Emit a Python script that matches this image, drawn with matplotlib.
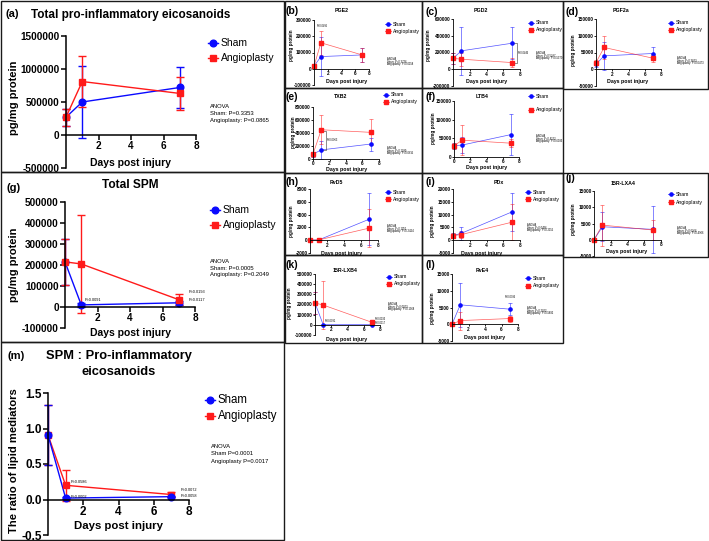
import matplotlib.pyplot as plt
from matplotlib.lines import Line2D
from matplotlib.patches import Rectangle

plt.rcParams['font.family'] = ['Liberation Sans', 'DejaVu Sans']

W, H = 709, 541
BLUE = '#0a0aff'
RED = '#ff1a1a'

days = [0, 1, 7]

# (a) total pro-inflammatory eicosanoids
a_sham = [270000, 500000, 720000]
a_sham_err = [130000, 550000, 315000]
a_ang = [270000, 810000, 630000]
a_ang_err = [130000, 390000, 250000]
a_yticks = [-500000, 0, 500000, 1000000, 1500000]

# (b) PGE2
b_sham = [15000, 75000, 85000]
b_sham_err = [8000, 120000, 42000]
b_ang = [15000, 160000, 85000]
b_ang_err = [8000, 75000, 42000]
b_yticks = [-100000, 0, 100000, 200000, 300000]

# (c) PGD2
c_sham = [130000, 220000, 310000]
c_sham_err = [70000, 290000, 190000]
c_ang = [130000, 120000, 80000]
c_ang_err = [70000, 80000, 50000]
c_yticks = [-200000, 0, 200000, 400000, 600000]

# (d) PGF2a
d_sham = [15000, 40000, 47000]
d_sham_err = [8000, 42000, 18000]
d_ang = [20000, 65000, 33000]
d_ang_err = [8000, 35000, 10000]
d_yticks = [-50000, 0, 50000, 100000, 150000]

# (e) TXB2
e_sham = [75000, 140000, 230000]
e_sham_err = [40000, 140000, 100000]
e_ang = [75000, 450000, 410000]
e_ang_err = [40000, 220000, 200000]
e_yticks = [0, 200000, 400000, 600000, 800000]

# (f) LTB4
f_sham = [30000, 32000, 60000]
f_sham_err = [8000, 22000, 55000]
f_ang = [30000, 45000, 37000]
f_ang_err = [8000, 40000, 10000]
f_yticks = [0, 50000, 100000, 150000]

# (g) total SPM
g_sham = [215000, 10000, 20000]
g_sham_err = [110000, 8000, 10000]
g_ang = [215000, 205000, 35000]
g_ang_err = [110000, 235000, 25000]
g_yticks = [-100000, 0, 100000, 200000, 300000, 400000, 500000]

# (h) RvD5
h_sham = [30, 30, 3300]
h_sham_err = [20, 20, 4000]
h_ang = [30, 40, 1900]
h_ang_err = [20, 20, 2900]
h_yticks = [-2000, 0, 2000, 4000, 6000, 8000]

# (i) PDx
i_sham = [1800, 2700, 11000]
i_sham_err = [1000, 2600, 7600]
i_ang = [1800, 2200, 7000]
i_ang_err = [1000, 1200, 7000]
i_yticks = [-5000, 0, 5000, 10000, 15000, 20000]

# (j) 15R-LXA4
j_sham = [0, 4000, 3200]
j_sham_err = [0, 4400, 7300]
j_ang = [0, 4500, 3000]
j_ang_err = [0, 6300, 3000]
j_yticks = [-5000, 0, 5000, 10000, 15000]

# (k) 15R-LXB4
k_sham = [215000, 3000, 3000]
k_sham_err = [105000, 2000, 2000]
k_ang = [215000, 195000, 25000]
k_ang_err = [105000, 235000, 20000]
k_yticks = [-100000, 0, 100000, 200000, 300000, 400000, 500000]

# (l) RvE4
l_sham = [0, 5800, 4500]
l_sham_err = [0, 6500, 1800]
l_ang = [0, 1100, 1700]
l_ang_err = [0, 2700, 900]
l_yticks = [-5000, 0, 5000, 10000, 15000]

# (m) SPM : pro-inflammatory ratio
m_sham = [0.91, 0.02, 0.04]
m_sham_err = [0.42, 0.01, 0.01]
m_ang = [0.91, 0.20, 0.07]
m_ang_err = [0.42, 0.22, 0.04]
m_yticks = [-0.5, 0.0, 0.5, 1.0, 1.5]

BIG = dict(fs=7.2, lw=1.0, ms=4.8, cap=3.0, tl=3.5, spine=1.1, leg=7.5, xl=7.5, pad=1, alpha=1.0)
SMALL = dict(fs=3.4, lw=0.5, ms=2.3, cap=1.2, tl=1.2, spine=0.6, leg=3.7, xl=3.8, pad=0.5, alpha=0.7)

fig = plt.figure(figsize=(W / 100, H / 100), dpi=100)


def ftext(x, y, s, **kw):
    kw.setdefault('va', 'center')
    return fig.text(x / W, 1 - y / H, s, **kw)


def box(x0, y0, x1, y1):
    fig.add_artist(Rectangle((x0 / W, 1 - y1 / H), (x1 - x0) / W, (y1 - y0) / H,
                             transform=fig.transFigure, fill=False, lw=1.0, ec='#1a1a1a'))


def legend(x, y1, y2, st, fs=None):
    fs = fs or st['leg']
    d = st['ms'] * 1.1
    for yy, col, mk, lab in [(y1, BLUE, 'o', 'Sham'), (y2, RED, 's', 'Angioplasty')]:
        fig.add_artist(Line2D([(x - d) / W, x / W, (x + d) / W], [1 - yy / H] * 3,
                              color=col, lw=st['lw'], marker=mk, ms=st['ms'],
                              markevery=[1], transform=fig.transFigure))
        ftext(x + d + 2.5, yy, lab, fontsize=fs)


def series(ax, y, e, color, marker, st):
    c = ax.errorbar(days, y, yerr=e, color=color, marker=marker, ms=st['ms'],
                    mec=color, mfc=color, lw=st['lw'], elinewidth=st['lw'],
                    capsize=st['cap'], capthick=st['lw'])
    for art in list(c.lines[1]) + list(c.lines[2]):
        art.set_clip_on(False)
        art.set_alpha(st['alpha'])
    c.lines[0].set_clip_on(False)
    # keep markers solid, connecting line a little lighter on the small panels
    ax.plot(days, y, color=color, lw=st['lw'], alpha=st['alpha'], clip_on=False)
    c.lines[0].set_linestyle('none')


def panel(x0, x1, ytop, ybot, yticks, sham, sham_err, ang, ang_err, st, dec=False, red_first=False):
    ax = fig.add_axes([x0 / W, 1 - ybot / H, (x1 - x0) / W, (ybot - ytop) / H])
    ax.patch.set_alpha(0)
    ax.set_xlim(0, 8)
    ax.set_ylim(yticks[0], yticks[-1])
    ax.set_yticks(yticks)
    if dec:
        ax.set_yticklabels(['%.1f' % v for v in yticks])
    else:
        ax.set_yticklabels([str(v) for v in yticks])
    if yticks[0] == 0:
        ax.set_xticks([0, 2, 4, 6, 8])
    else:
        ax.set_xticks([2, 4, 6, 8])
    ax.spines['bottom'].set_position(('data', 0))
    for sp in ['top', 'right']:
        ax.spines[sp].set_visible(False)
    for sp in ['left', 'bottom']:
        ax.spines[sp].set_linewidth(st['spine'])
    ax.tick_params(direction='out', length=st['tl'], width=st['spine'], pad=st['pad'],
                   labelsize=st['fs'])
    for lab in ax.get_xticklabels() + ax.get_yticklabels():
        lab.set_fontweight('bold')
    order = [(ang, ang_err, RED, 's'), (sham, sham_err, BLUE, 'o')]
    if not red_first:
        order = order[::-1]
    for y, e, col, mk in order:
        series(ax, y, e, col, mk, st)
    return ax


def anova(x, y, lines, fs, gap):
    for n, s in enumerate(lines):
        ftext(x, y + n * gap, s, fontsize=fs, va='top')


# ---------- boxes ----------
box(1, 1, 284, 172)
box(1, 172, 284, 342)
box(1, 342, 284, 540)
box(285, 1, 422, 88)
box(422, 1, 563, 88)
box(563, 1, 708, 89)
box(285, 88, 422, 173)
box(422, 88, 563, 173)
box(285, 173, 422, 255)
box(422, 173, 563, 255)
box(563, 173, 708, 257)
box(285, 255, 422, 343)
box(422, 255, 563, 343)

# ---------- (a) ----------
ax = panel(66, 196, 36, 168, a_yticks, a_sham, a_sham_err, a_ang, a_ang_err, BIG)
ftext(5, 14, '(a)', fontsize=8, fontweight='bold')
ftext(131, 15, 'Total pro-inflammatory eicosanoids', fontsize=8.5, fontweight='bold', ha='center')
ftext(131, 163, 'Days post injury', fontsize=BIG['xl'], fontweight='bold', ha='center')
ftext(14, 98, 'pg/mg protein', fontsize=8, fontweight='bold', ha='center', rotation=90)
legend(213, 43, 58, BIG)
anova(210, 104, ['ANOVA', 'Sham: P=0.3353', 'Angioplasty: P=0.0865'], 4.2, 7)

# ---------- (g) ----------
ax = panel(65, 195, 202, 328, g_yticks, g_sham, g_sham_err, g_ang, g_ang_err, BIG)
ftext(6, 188, '(g)', fontsize=8, fontweight='bold')
ftext(130, 185, 'Total SPM', fontsize=8.6, fontweight='bold', ha='center')
ftext(130, 333, 'Days post injury', fontsize=BIG['xl'], fontweight='bold', ha='center')
ftext(14, 265, 'pg/mg protein', fontsize=8, fontweight='bold', ha='center', rotation=90)
legend(215, 210, 225, BIG)
anova(210, 259, ['ANOVA', 'Sham: P=0.0005', 'Angioplasty: P=0.2049'], 4.2, 6.5)
ax.text(1.2, 30000, 'P=0.0091', fontsize=2.8)
ax.text(7.6, 68000, 'P=0.0193', fontsize=2.8)
ax.text(7.6, 28000, 'P=0.0117', fontsize=2.8)

# ---------- (m) ----------
ax = panel(48, 189, 393, 535, m_yticks, m_sham, m_sham_err, m_ang, m_ang_err, BIG,
           dec=True, red_first=True)
ax.tick_params(labelsize=8.5)
ftext(7, 356, '(m)', fontsize=8, fontweight='bold')
ftext(119, 356, 'SPM : Pro-inflammatory', fontsize=9.3, fontweight='bold', ha='center')
ftext(119, 372, 'eicosanoids', fontsize=9.3, fontweight='bold', ha='center')
ftext(119, 526, 'Days post injury', fontsize=8.2, fontweight='bold', ha='center')
ftext(14, 461, 'The ratio of lipid mediators', fontsize=8.1, fontweight='bold', ha='center', rotation=90)
legend(210, 400, 416, BIG, fs=8.3)
anova(211, 444, ['ANOVA', 'Sham P=0.0001', 'Angioplasty P=0.0017'], 4.2, 7.3)
ax.text(1.3, 0.235, 'P=0.0586', fontsize=2.8)
ax.text(1.3, 0.025, 'P=0.0002', fontsize=2.8)
ax.text(7.5, 0.12, 'P=0.0072', fontsize=2.8)
ax.text(7.5, 0.035, 'P=0.0058', fontsize=2.8)

# ---------- small panels ----------
small = [
    # label, lx, ly, title, tx, ty, axes px, data, legend, anova, ylab, xlab
    ('(b)', 286, 11, 'PGE2', 342, 11, (314, 369, 20, 85), (b_yticks, b_sham, b_sham_err, b_ang, b_ang_err),
     (388, 24, 31), (387, 57, 'Sham: P=0.3726', 'Angioplasty: P=0.0158'), (291, 45), (347, 82)),
    ('(c)', 426, 12, 'PGD2', 481, 10, (453, 520, 19, 86), (c_yticks, c_sham, c_sham_err, c_ang, c_ang_err),
     (531, 23, 30), (536, 51, 'Sham: P=0.5287', 'Angioplasty: P=0.5370'), (429, 45), (487, 81)),
    ('(d)', 566, 12, 'PGF2a', 621, 11, (596, 661, 19, 86), (d_yticks, d_sham, d_sham_err, d_ang, d_ang_err),
     (671, 23, 30), (677, 56, 'Sham: P=0.3823', 'Angioplasty: P=0.0473'), (574, 50), (628, 82)),
    ('(e)', 286, 97, 'TXB2', 341, 97, (313, 379, 107, 159), (e_yticks, e_sham, e_sham_err, e_ang, e_ang_err),
     (386, 95, 102), (387, 146, 'Sham: P=0.1099', 'Angioplasty: P=0.0615'), (293, 132), (347, 169)),
    ('(f)', 426, 97, 'LTB4', 482, 97, (454, 519, 101, 157), (f_yticks, f_sham, f_sham_err, f_ang, f_ang_err),
     (531, 96, 110), (536, 134, 'Sham: P=0.4122', 'Angioplasty: P=0.6093'), (433, 128), (487, 168)),
    ('(h)', 286, 182, 'RvD5', 336, 182, (310, 378, 189, 253), (h_yticks, h_sham, h_sham_err, h_ang, h_ang_err),
     (388, 192, 199), (387, 224, 'Sham: P=0.1951', 'Angioplasty: P=0.2424'), (291, 221), (342, 254)),
    ('(i)', 426, 182, 'PDx', 499, 182, (453, 520, 189, 253), (i_yticks, i_sham, i_sham_err, i_ang, i_ang_err),
     (528, 192, 199), (527, 223, 'Sham: P=0.0456', 'Angioplasty: P=0.2155'), (432, 221), (482, 254)),
    ('(j)', 566, 178, '15R-LXA4', 623, 183, (594, 661, 191, 256), (j_yticks, j_sham, j_sham_err, j_ang, j_ang_err),
     (671, 194, 202), (677, 226, 'Sham: P=0.6264', 'Angioplasty: P=0.4906'), (574, 219), (627, 252)),
    ('(k)', 286, 265, '15R-LXB4', 345, 270, (315, 380, 274, 335), (k_yticks, k_sham, k_sham_err, k_ang, k_ang_err),
     (389, 277, 284), (388, 302, 'Sham: P=0.0003', 'Angioplasty: P=0.1368'), (290, 303), (347, 339)),
    ('(l)', 426, 265, 'RvE4', 482, 270, (452, 518, 274, 341), (l_yticks, l_sham, l_sham_err, l_ang, l_ang_err),
     (528, 278, 286), (527, 306, 'Sham: P=0.2062', 'Angioplasty: P=0.5892'), (432, 308), (485, 338)),
]

axes = {}
for lab, lx, ly, title, tx, ty, apx, data, leg, an, yl, xl in small:
    x0, x1, yt, yb = apx
    ax = panel(x0, x1, yt, yb, *data, SMALL)
    axes[lab] = ax
    ftext(lx, ly, lab, fontsize=7.5, fontweight='bold')
    ftext(tx, ty, title, fontsize=3.8, fontweight='bold', ha='center')
    ftext(xl[0], xl[1], 'Days post injury', fontsize=SMALL['xl'], fontweight='bold', ha='center')
    ftext(yl[0], yl[1], 'pg/mg protein', fontsize=3.3, fontweight='bold', ha='center', rotation=90)
    legend(leg[0], leg[1], leg[2], SMALL)
    anova(an[0], an[1], ['ANOVA', an[2], an[3]], 1.9, 2.6)

# annotations in small panels
ax = axes['(b)']
ax.text(1.2, 255000, 'P=0.0495', fontsize=1.8, ha='center')
ax = axes['(c)']
ax.plot([7.1, 7.6, 7.6, 7.1], [310000, 310000, 80000, 80000], color='#333333', lw=0.4, clip_on=False)
ax.text(7.75, 195000, 'P=0.0446', fontsize=1.8, va='center')
ax = axes['(e)']
ax.plot([1.05, 1.55, 1.55, 1.05], [430000, 430000, 140000, 140000], color='#333333', lw=0.4, clip_on=False)
ax.text(1.7, 285000, 'P=0.0063', fontsize=1.8, va='center')
ax = axes['(k)']
ax.text(1.2, 25000, 'P=0.0091', fontsize=1.8)
ax.text(7.4, 45000, 'P=0.0193', fontsize=1.8)
ax.text(7.4, 12000, 'P=0.0117', fontsize=1.8)
ax = axes['(l)']
ax.text(7.1, 7800, 'P=0.0386', fontsize=1.8, ha='center')

fig.savefig('out.png', dpi=100)
